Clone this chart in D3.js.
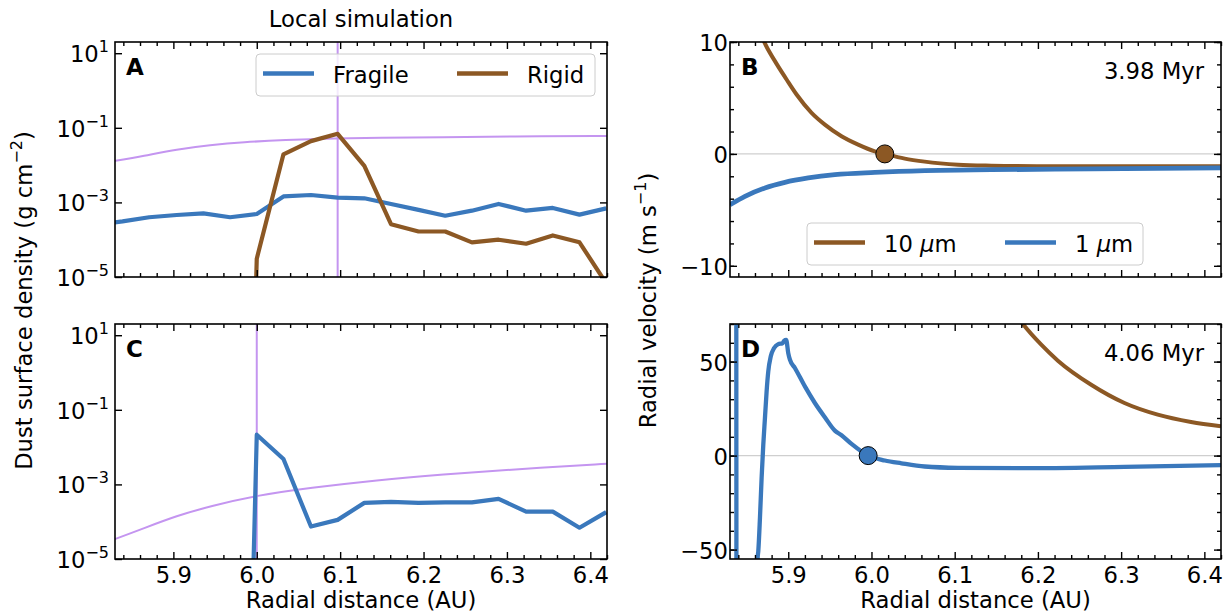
<!DOCTYPE html>
<html><head><meta charset="utf-8">
<script src="https://cdn.jsdelivr.net/npm/d3@7"></script>
<style>body{margin:0;background:#fff} svg{display:block} text{font-family:"DejaVu Sans",sans-serif;fill:#000}</style>
</head><body><svg id="c" width="1228" height="614"></svg>
<script>
// ---------------- DATA ----------------
const xDomain = [5.83, 6.42];
const densDomain = [1e-5, 20];
const velDomainB = [-11, 10];
const velDomainD = [-55, 70];

const xMajor = [5.9, 6.0, 6.1, 6.2, 6.3, 6.4];
const logMajor = [1e1, 1e-1, 1e-3, 1e-5];
const velMajorB = [-10, 0, 10];
const velMajorD = [-50, 0, 50];

// local simulation grid (AU)
const gridX = [5.807, 5.839, 5.871, 5.904, 5.936, 5.968, 6.000, 6.032, 6.065, 6.097, 6.129, 6.161, 6.194, 6.226, 6.258, 6.290, 6.323, 6.355, 6.387, 6.419];
const fragileA = [2.5e-4, 3.1e-4, 4.0e-4, 4.6e-4, 5.1e-4, 4.0e-4, 4.9e-4, 1.45e-3, 1.58e-3, 1.35e-3, 1.29e-3, 9.1e-4, 6.3e-4, 4.4e-4, 6.0e-4, 9.1e-4, 6.0e-4, 7.1e-4, 4.7e-4, 6.9e-4];
const rigidA = [null, null, null, null, null, 1e-30, 3.1e-5, 1.95e-2, 4.4e-2, 6.9e-2, 9.5e-3, 2.6e-4, 1.66e-4, 1.66e-4, 8.5e-5, 1.0e-4, 7.8e-5, 1.3e-4, 8.5e-5, 6.8e-6];
const fragileC = [null, null, null, null, null, 1e-30, 2.15e-2, 4.8e-3, 7.4e-5, 1.12e-4, 3.2e-4, 3.4e-4, 3.2e-4, 3.3e-4, 3.3e-4, 4.1e-4, 1.86e-4, 1.86e-4, 6.9e-5, 1.8e-4];

// threshold curves (purple)
const thrAx = [5.80, 5.83, 5.864, 5.904, 5.944, 5.984, 6.032, 6.096, 6.144, 6.224, 6.304, 6.42, 6.45];
const thrA  = [1.0e-2, 1.29e-2, 1.75e-2, 2.65e-2, 3.45e-2, 4.15e-2, 4.7e-2, 5.2e-2, 5.4e-2, 5.6e-2, 5.9e-2, 6.0e-2, 6.05e-2];
const thrCx = [5.80, 5.83, 5.864, 5.904, 5.944, 6.0, 6.064, 6.144, 6.224, 6.304, 6.42, 6.45];
const thrC  = [2.0e-5, 3.4e-5, 6.6e-5, 1.44e-4, 2.6e-4, 5.1e-4, 8.1e-4, 1.31e-3, 1.86e-3, 2.5e-3, 3.6e-3, 3.8e-3];
const vlineA = 6.097;
const vlineC = 6.0;

// radial velocities, 3.98 Myr
const b10x = [5.862, 5.871, 5.884, 5.898, 5.910, 5.928, 5.944, 5.964, 5.984, 6.004, 6.016, 6.040, 6.064, 6.104, 6.144, 6.224, 6.42];
const b10v = [11.8, 10.03, 8.29, 6.65, 5.31, 3.67, 2.62, 1.58, 0.83, 0.23, 0, -0.42, -0.69, -0.96, -1.05, -1.11, -1.11];
const b1x = [5.83, 5.848, 5.872, 5.896, 5.924, 5.956, 6.004, 6.064, 6.144, 6.264, 6.42];
const b1v = [-4.54, -3.79, -3.04, -2.54, -2.15, -1.85, -1.65, -1.49, -1.41, -1.34, -1.25];
const markB = [6.016, 0];

// radial velocities, 4.06 Myr
const d1x = [5.83, 5.8375, 5.8378, 5.862, 5.8632, 5.864, 5.866, 5.868, 5.870, 5.872, 5.874, 5.876, 5.879, 5.883, 5.888, 5.893, 5.895, 5.8975, 5.900, 5.902, 5.908, 5.920, 5.932, 5.944, 5.956, 5.964, 5.976, 5.996, 6.016, 6.036, 6.064, 6.104, 6.184, 6.304, 6.42];
const d1v = [150, 150, -150, -150, -54.7, -50.8, -33.1, -11.8, 5.8, 20.0, 34.2, 44.8, 52.8, 57.2, 59.3, 59.8, 61.1, 61.6, 54.5, 51.0, 46.6, 36.8, 28.0, 20.4, 13.3, 10.8, 6.2, 0, -2.6, -4.1, -5.8, -6.5, -6.7, -6.0, -5.1];
const d10x = [6.16, 6.182, 6.204, 6.224, 6.264, 6.304, 6.344, 6.384, 6.42];
const d10v = [84, 70, 59.0, 50.5, 37.7, 28.0, 21.8, 17.9, 15.6];
const markD = [5.996, 0];

// ---------------- STYLE / LAYOUT ----------------
const BLUE = "#3a78bc", BROWN = "#8c5824", PURPLE = "#c495f0";
const FS = 22.7, SUP = 16;
const boxes = {
  A: {x0:115, x1:607, y0:42, y1:277},
  B: {x0:730, x1:1221, y0:42, y1:277},
  C: {x0:115, x1:607, y0:324, y1:559},
  D: {x0:730, x1:1221, y0:324, y1:559}
};
const svg = d3.select("#c");
const defs = svg.append("defs");
const zip = (xs, ys) => xs.map((x, i) => [x, ys[i]]);

function setupPanel(key, yScale, opts) {
  const b = boxes[key];
  const x = d3.scaleLinear().domain(xDomain).range([b.x0, b.x1]);
  const y = yScale.range([b.y1, b.y0]);
  defs.append("clipPath").attr("id", "clip" + key)
    .append("rect").attr("x", b.x0).attr("y", b.y0).attr("width", b.x1 - b.x0).attr("height", b.y1 - b.y0);
  const g = svg.append("g");
  const plot = g.append("g").attr("clip-path", `url(#clip${key})`);

  const clean = s => s.call(a => a.select(".domain").remove());
  const xMinor = d3.range(5.84, 6.425, 0.02).filter(v => !xMajor.some(m => Math.abs(m - v) < 1e-6));
  const bot = g.append("g").attr("transform", `translate(0,${b.y1})`)
    .call(d3.axisBottom(x).tickValues(xMajor).tickSize(-7).tickPadding(8)
      .tickFormat(opts.xLabels ? d3.format(".1f") : () => ""));
  clean(bot);
  bot.selectAll("text").attr("font-size", FS).attr("font-family", "DejaVu Sans").attr("fill", "#000");
  clean(g.append("g").attr("transform", `translate(0,${b.y1})`).call(d3.axisBottom(x).tickValues(xMinor).tickSize(-4).tickFormat(() => "")));
  clean(g.append("g").attr("transform", `translate(0,${b.y0})`).call(d3.axisTop(x).tickValues(xMajor).tickSize(-7).tickFormat(() => "")));
  clean(g.append("g").attr("transform", `translate(0,${b.y0})`).call(d3.axisTop(x).tickValues(xMinor).tickSize(-4).tickFormat(() => "")));
  const left = g.append("g").attr("transform", `translate(${b.x0},0)`)
    .call(d3.axisLeft(y).tickValues(opts.yMajor).tickSize(-7).tickPadding(opts.yPad).tickFormat(opts.yFormat || d3.format("d")));
  clean(left);
  left.selectAll("text").attr("font-size", FS).attr("font-family", "DejaVu Sans").attr("fill", "#000").attr("dy", "0.37em");
  if (opts.log) {
    left.selectAll(".tick text").each(function(d) {
      const e = Math.round(Math.log10(d));
      const t = d3.select(this);
      t.text(null);
      t.append("tspan").text("10");
      t.append("tspan").attr("dy", -10).attr("font-size", SUP).text(e < 0 ? "\u2212" + (-e) : String(e));
    });
  }
  clean(g.append("g").attr("transform", `translate(${b.x1},0)`).call(d3.axisRight(y).tickValues(opts.yMajor).tickSize(-7).tickFormat(() => "")));
  if (opts.yMinor) {
    clean(g.append("g").attr("transform", `translate(${b.x0},0)`).call(d3.axisLeft(y).tickValues(opts.yMinor).tickSize(-4).tickFormat(() => "")));
    clean(g.append("g").attr("transform", `translate(${b.x1},0)`).call(d3.axisRight(y).tickValues(opts.yMinor).tickSize(-4).tickFormat(() => "")));
  }
  g.selectAll(".tick line").attr("stroke", "#000").attr("stroke-width", 1.4);
  return {x, y, g, plot, b};
}

function drawLine(p, data, color, width, curve) {
  p.plot.append("path").datum(data)
    .attr("fill", "none").attr("stroke", color).attr("stroke-width", width)
    .attr("stroke-linejoin", "round").attr("stroke-linecap", "butt")
    .attr("d", d3.line().defined(d => d[1] !== null).x(d => p.x(d[0])).y(d => p.y(d[1])).curve(curve || d3.curveLinear));
}
function frame(p) {
  p.g.append("rect").attr("x", p.b.x0).attr("y", p.b.y0).attr("width", p.b.x1 - p.b.x0).attr("height", p.b.y1 - p.b.y0)
    .attr("fill", "none").attr("stroke", "#000").attr("stroke-width", 1.6);
}
function letter(p, s) {
  p.g.append("text").attr("x", p.b.x0 + 11).attr("y", p.b.y0 + 33).attr("font-size", 23).attr("font-weight", "bold").text(s);
}

// ---------- Panel A ----------
const A = setupPanel("A", d3.scaleLog().domain(densDomain), {yMajor: logMajor, log: true, yPad: 6, xLabels: false});
drawLine(A, zip(thrAx, thrA), PURPLE, 2, d3.curveBasis);
A.plot.append("line").attr("x1", A.x(vlineA)).attr("x2", A.x(vlineA)).attr("y1", A.b.y0).attr("y2", A.b.y1).attr("stroke", PURPLE).attr("stroke-width", 2);
drawLine(A, zip(gridX, fragileA), BLUE, 4.2);
drawLine(A, zip(gridX, rigidA), BROWN, 4.2);
frame(A); letter(A, "A");
const lgA = A.g.append("g");
lgA.append("rect").attr("x", 256).attr("y", 54).attr("width", 339).attr("height", 42).attr("rx", 4)
  .attr("fill", "#fff").attr("fill-opacity", 0.8).attr("stroke", "#cccccc").attr("stroke-width", 1);
[["Fragile", BLUE, 263, 333], ["Rigid", BROWN, 457, 527]].forEach(([t, c, lx, tx]) => {
  lgA.append("line").attr("x1", lx).attr("x2", lx + 51).attr("y1", 73.5).attr("y2", 73.5).attr("stroke", c).attr("stroke-width", 4.5);
  lgA.append("text").attr("x", tx).attr("y", 82.5).attr("font-size", FS).text(t);
});

// ---------- Panel C ----------
const C = setupPanel("C", d3.scaleLog().domain(densDomain), {yMajor: logMajor, log: true, yPad: 6, xLabels: true});
drawLine(C, zip(thrCx, thrC), PURPLE, 2, d3.curveBasis);
C.plot.append("line").attr("x1", C.x(vlineC)).attr("x2", C.x(vlineC)).attr("y1", C.b.y0).attr("y2", C.b.y1).attr("stroke", PURPLE).attr("stroke-width", 2);
drawLine(C, zip(gridX, fragileC), BLUE, 4.2);
frame(C); letter(C, "C");

// ---------- Panel B ----------
const B = setupPanel("B", d3.scaleLinear().domain(velDomainB), {yMajor: velMajorB, yMinor: d3.range(-10, 10.1, 2), yPad: 2, xLabels: false});
B.plot.append("line").attr("x1", B.b.x0).attr("x2", B.b.x1).attr("y1", B.y(0)).attr("y2", B.y(0)).attr("stroke", "#cfcfcf").attr("stroke-width", 1.2);
drawLine(B, zip(b10x, b10v), BROWN, 4, d3.curveMonotoneX);
drawLine(B, zip(b1x, b1v), BLUE, 4.8, d3.curveMonotoneX);
B.g.append("circle").attr("cx", B.x(markB[0])).attr("cy", B.y(markB[1])).attr("r", 9).attr("fill", BROWN).attr("stroke", "#000").attr("stroke-width", 1);
frame(B); letter(B, "B");
B.g.append("text").attr("x", 1204).attr("y", 79).attr("text-anchor", "end").attr("font-size", FS).text("3.98 Myr");
const lgB = B.g.append("g");
lgB.append("rect").attr("x", 807).attr("y", 223).attr("width", 336).attr("height", 42).attr("rx", 4)
  .attr("fill", "#fff").attr("fill-opacity", 0.8).attr("stroke", "#cccccc").attr("stroke-width", 1);
[["10 ", BROWN, 814, 884], ["1 ", BLUE, 1005, 1075]].forEach(([t, c, lx, tx]) => {
  lgB.append("line").attr("x1", lx).attr("x2", lx + 51).attr("y1", 242.5).attr("y2", 242.5).attr("stroke", c).attr("stroke-width", 4.5);
  const tt = lgB.append("text").attr("x", tx).attr("y", 251.5).attr("font-size", FS);
  tt.append("tspan").text(t);
  tt.append("tspan").attr("font-style", "italic").text("\u03bc");
  tt.append("tspan").text("m");
});

// ---------- Panel D ----------
const D = setupPanel("D", d3.scaleLinear().domain(velDomainD), {yMajor: velMajorD, yMinor: d3.range(-50, 70.1, 10), yPad: 2, xLabels: true});
D.plot.append("line").attr("x1", D.b.x0).attr("x2", D.b.x1).attr("y1", D.y(0)).attr("y2", D.y(0)).attr("stroke", "#cfcfcf").attr("stroke-width", 1.2);
drawLine(D, zip(d10x, d10v), BROWN, 4, d3.curveMonotoneX);
drawLine(D, zip(d1x, d1v), BLUE, 4.3, d3.curveMonotoneX);
D.g.append("circle").attr("cx", D.x(markD[0])).attr("cy", D.y(markD[1])).attr("r", 9).attr("fill", BLUE).attr("stroke", "#000").attr("stroke-width", 1);
frame(D); letter(D, "D");
D.g.append("text").attr("x", 1204).attr("y", 361).attr("text-anchor", "end").attr("font-size", FS).text("4.06 Myr");

// ---------- Titles / labels ----------
svg.append("text").attr("x", 361).attr("y", 26.5).attr("text-anchor", "middle").attr("font-size", FS).text("Local simulation");
[361, 975.5].forEach(cx => svg.append("text").attr("x", cx).attr("y", 607.5).attr("text-anchor", "middle").attr("font-size", FS).text("Radial distance (AU)"));
function ylab(x, y, main, sup) {
  const t = svg.append("text").attr("transform", `translate(${x},${y}) rotate(-90)`).attr("text-anchor", "middle").attr("font-size", FS);
  t.append("tspan").text(main);
  t.append("tspan").attr("dy", -10).attr("font-size", SUP).text(sup);
  t.append("tspan").attr("dy", 10).text(")");
}
ylab(31.5, 300.5, "Dust surface density (g cm", "\u22122");
ylab(656, 300.5, "Radial velocity (m s", "\u22121");
</script>
</body></html>
